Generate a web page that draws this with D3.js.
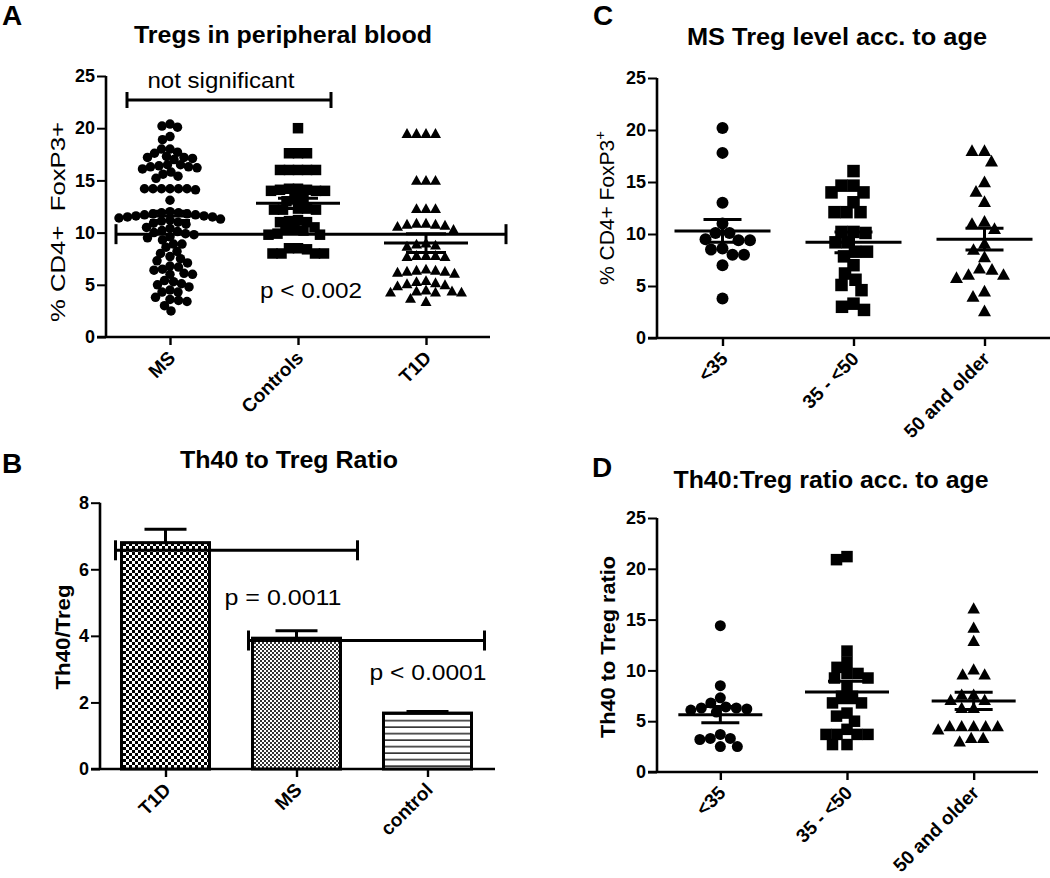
<!DOCTYPE html>
<html><head><meta charset="utf-8">
<script src="https://cdn.jsdelivr.net/npm/d3@7"></script>
<style>body{margin:0;background:#fff} text{font-family:"Liberation Sans",Arial,sans-serif;fill:#000}</style>
</head><body><svg id="c" width="1050" height="878"></svg>
<script>
// ---------------- DATA ----------------
// Panel A
const aCategories = ["MS", "Controls", "T1D"];
const aYTicks = [0, 5, 10, 15, 20, 25];
const aMS = [20.4, 20.2, 20.1, 19.2, 18.9, 18.0, 18.0, 17.7, 17.6, 17.3, 17.2, 17.2, 17.1, 17.0,
  16.5, 16.5, 16.4, 16.3, 16.3, 16.2, 16.1, 15.8, 15.6, 15.4, 15.2,
  14.2, 14.2, 14.2, 14.1, 14.2, 14.2, 14.2, 13.1,
  12.0, 11.9, 11.9, 11.8, 11.8, 11.7, 11.7, 11.6, 11.6, 11.5, 11.5, 11.4, 11.3, 11.2, 11.1, 11.0, 10.9, 10.8,
  10.5, 10.4, 10.2, 10.1, 10.0, 9.9, 9.8, 9.6, 9.5, 9.3,
  8.9, 8.9, 8.6, 8.2, 8.0, 7.7, 7.5, 7.3, 7.1, 6.8, 6.7, 6.5, 6.4, 6.1, 6.0, 6.0,
  5.4, 5.3, 5.1, 5.0, 4.8, 4.5, 4.3, 4.3, 3.8, 3.6, 3.5, 3.4, 3.0, 2.5];
const aControls = [20.0, 17.6, 17.6, 17.6, 16.0, 16.0, 16.0, 16.0, 16.0,
  14.2, 14.1, 14.0, 14.0, 14.1, 14.2, 14.0, 13.4, 13.2, 13.0,
  12.3, 12.2, 12.2, 12.2, 12.3, 11.2, 11.1, 11.0, 11.0, 10.5, 10.4, 10.3, 10.2,
  9.9, 9.8, 9.8, 8.5, 8.5, 8.4, 8.0, 8.0, 8.0, 8.0];
const aT1D = [19.5, 19.5, 19.5, 19.5, 15.0, 15.0, 15.0, 12.3, 12.3, 12.3,
  10.9, 10.9, 10.8, 10.8, 10.7, 10.6, 10.3, 9.0, 8.9, 8.8, 8.7,
  7.8, 7.8, 7.8, 7.7, 7.7, 6.5, 6.4, 6.4, 6.3, 6.3, 6.2, 6.1,
  5.4, 5.3, 5.2, 5.1, 5.0, 4.9, 4.5, 4.4, 4.4, 4.3, 4.3, 4.3, 3.7, 3.4];
const aMeans = [11.6, 12.8, 9.0];
const aSEM = [0.45, 0.5, 0.9];
const aNotSigLevel = 22.7;
const aPLevel = 9.85;

// Panel B
const bCategories = ["T1D", "MS", "control"];
const bYTicks = [0, 2, 4, 6, 8];
const bValues = [6.8, 3.93, 1.68];
const bSEM = [0.4, 0.22, 0.05];
const bBracketLevels = [6.57, 3.86];

// Panel C
const cCategories = ["<35", "35 - <50", "50 and older"];
const cYTicks = [0, 5, 10, 15, 20, 25];
const cUnder35 = [20.2, 17.8, 13.0, 11.0, 10.1, 10.1, 9.5, 9.4, 9.4, 8.6, 8.5, 8.0, 8.0, 7.0, 3.8];
const c35to50 = [16.05, 14.65, 14.65, 14.0, 14.0, 13.05, 12.1, 12.1, 12.1, 10.2, 10.2, 10.1, 9.2, 9.2,
  8.3, 8.3, 7.85, 7.0, 6.2, 5.6, 5.1, 4.6, 3.3, 3.0, 2.7];
const c50plus = [18.0, 18.0, 17.0, 15.0, 14.1, 13.1, 11.2, 11.0, 10.5, 9.1, 8.5, 7.8, 6.7, 6.6, 6.1, 6.1, 5.8, 4.5, 4.0, 2.6];
const cMeans = [10.3, 9.2, 9.5];
const cSEM = [1.1, 1.0, 1.05];

// Panel D
const dCategories = ["<35", "35 - <50", "50 and older"];
const dYTicks = [0, 5, 10, 15, 20, 25];
const dUnder35 = [14.4, 8.5, 7.3, 6.8, 6.4, 6.3, 6.3, 6.2, 6.1, 5.9, 3.7, 3.3, 3.3, 3.2, 2.5, 2.5];
const d35to50 = [21.2, 20.9, 11.9, 10.8, 10.3, 9.7, 9.7, 9.25, 9.25, 8.4, 7.45, 7.45, 6.8, 6.8,
  5.8, 5.5, 5.0, 4.2, 3.7, 3.7, 3.7, 3.7, 2.7, 2.7];
const d50plus = [16.1, 14.2, 12.9, 10.1, 9.6, 9.6, 7.6, 7.6, 7.1, 7.1, 6.3, 6.3, 4.5, 4.5, 4.5, 4.5, 4.5, 4.2, 3.35, 3.35, 3.0];
const dMeans = [5.64, 7.87, 7.0];
const dSEM = [0.8, 1.05, 0.85];

// ---------------- DRAWING ----------------
const svg = d3.select("#c");
svg.append("rect").attr("width", 1050).attr("height", 878).attr("fill", "#fff");
const defs = svg.append("defs");
function pattern(id, w, h, build) {
  const p = defs.append("pattern").attr("id", id).attr("patternUnits", "userSpaceOnUse")
    .attr("width", w).attr("height", h);
  p.append("rect").attr("width", w).attr("height", h).attr("fill", "#fff");
  build(p);
}
pattern("checkBig", 6, 6, p => {
  p.append("rect").attr("width", 3).attr("height", 3).attr("fill", "#000");
  p.append("rect").attr("x", 3).attr("y", 3).attr("width", 3).attr("height", 3).attr("fill", "#000");
});
pattern("checkSmall", 4, 4, p => {
  p.append("rect").attr("width", 2).attr("height", 2).attr("fill", "#333");
  p.append("rect").attr("x", 2).attr("y", 2).attr("width", 2).attr("height", 2).attr("fill", "#333");
});
pattern("hLines", 8, 6.5, p => {
  p.append("rect").attr("y", 5).attr("width", 8).attr("height", 1.3).attr("fill", "#000");
});

const AX = 2.6; // axis stroke width

function text(x, y, s, size, weight, anchor, len) {
  const t = svg.append("text").attr("x", x).attr("y", y).text(s)
    .attr("font-size", size).attr("font-weight", weight || "normal")
    .attr("text-anchor", anchor || "middle");
  if (len) t.attr("textLength", len).attr("lengthAdjust", "spacingAndGlyphs");
  return t;
}

function beeswarm(values, cx, y, diam) {
  const placed = [];
  const order = values.map((v, i) => ({ v, i })).sort((a, b) => b.v - a.v);
  const out = new Array(values.length);
  for (const p of order) {
    const py = y(p.v);
    let off = 0;
    for (let k = 0; k < 2000; k++) {
      const cand = (k % 2 === 0 ? 1 : -1) * Math.ceil(k / 2) * 0.5;
      let ok = true;
      for (const q of placed) {
        const dx = cand - q.off, dy = py - q.py;
        if (dx * dx + dy * dy < diam * diam) { ok = false; break; }
      }
      if (ok) { off = cand; break; }
    }
    placed.push({ off, py });
    out[p.i] = { x: cx + off, y: py, v: p.v };
  }
  return out;
}

function drawMarker(g, shape, pts, size) {
  if (shape === "circle") {
    g.selectAll(null).data(pts).join("circle").attr("cx", d => d.x).attr("cy", d => d.y)
      .attr("r", size / 2).attr("fill", "#000");
  } else if (shape === "square") {
    g.selectAll(null).data(pts).join("rect").attr("x", d => d.x - size / 2).attr("y", d => d.y - size / 2)
      .attr("width", size).attr("height", size).attr("fill", "#000");
  } else {
    const w = size / 2, h = size * 0.9;
    g.selectAll(null).data(pts).join("path")
      .attr("d", d => `M${d.x},${d.y - h * 0.55}L${d.x + w},${d.y + h * 0.45}L${d.x - w},${d.y + h * 0.45}Z`)
      .attr("fill", "#000");
  }
}

function axes(cfg) {
  const g = svg.append("g");
  const y = cfg.y, x = cfg.x;
  const ya = g.append("g").attr("transform", `translate(${cfg.axisX},0)`)
    .call(d3.axisLeft(y).tickValues(cfg.yTicks).tickSize(9).tickSizeOuter(0).tickPadding(2));
  ya.select(".domain").remove();
  ya.selectAll(".tick line").attr("stroke", "#000").attr("stroke-width", 2);
  ya.selectAll(".tick text").attr("font-size", 18).attr("font-weight", "bold")
    .attr("font-family", "Liberation Sans, Arial, sans-serif").attr("fill", "#000");
  g.append("line").attr("x1", cfg.axisX).attr("x2", cfg.axisX).attr("y1", y.range()[0]).attr("y2", y.range()[1])
    .attr("stroke", "#000").attr("stroke-width", AX);
  const xa = g.append("g").attr("transform", `translate(0,${y.range()[0]})`)
    .call(d3.axisBottom(x).tickSize(8).tickSizeOuter(0));
  xa.select(".domain").remove();
  xa.selectAll(".tick line").attr("stroke", "#000").attr("stroke-width", 2.4);
  xa.selectAll(".tick text").attr("font-size", 19).attr("font-weight", "bold")
    .attr("font-family", "Liberation Sans, Arial, sans-serif").attr("fill", "#000")
    .attr("x", 0).attr("y", 0).attr("dy", 0).attr("text-anchor", "end")
    .attr("transform", "translate(6,22) rotate(-45)");
  g.append("line").attr("x1", cfg.axisX - 9).attr("x2", cfg.lineEnd).attr("y1", y.range()[0]).attr("y2", y.range()[0])
    .attr("stroke", "#000").attr("stroke-width", AX);
}

function meanSem(cx, y, mean, sem, meanW, semW) {
  const g = svg.append("g").attr("stroke", "#000").attr("stroke-width", 3);
  g.append("line").attr("x1", cx - meanW / 2).attr("x2", cx + meanW / 2).attr("y1", y(mean)).attr("y2", y(mean));
  g.append("line").attr("x1", cx).attr("x2", cx).attr("y1", y(mean - sem)).attr("y2", y(mean + sem));
  [mean - sem, mean + sem].forEach(v =>
    g.append("line").attr("x1", cx - semW / 2).attr("x2", cx + semW / 2).attr("y1", y(v)).attr("y2", y(v)));
}

function bracket(x1, x2, yy, cap) {
  const g = svg.append("g").attr("stroke", "#000").attr("stroke-width", 3);
  g.append("line").attr("x1", x1).attr("x2", x2).attr("y1", yy).attr("y2", yy);
  g.append("line").attr("x1", x1).attr("x2", x1).attr("y1", yy - cap).attr("y2", yy + cap);
  g.append("line").attr("x1", x2).attr("x2", x2).attr("y1", yy - cap).attr("y2", yy + cap);
}

function scatterPanel(cfg) {
  const y = d3.scaleLinear().domain([0, 25]).range([cfg.y0, cfg.yTop]);
  const x = d3.scalePoint().domain(cfg.categories).range([cfg.axisX, cfg.rangeEnd]).padding(0.5);
  cfg.x = x; cfg.y = y;
  axes(cfg);
  const shapes = ["circle", "square", "triangle"];
  const g = svg.append("g");
  cfg.groups.forEach((vals, i) => {
    const cx = x(cfg.categories[i]);
    const pts = beeswarm(vals, cx, y, cfg.sizes[i] * cfg.spread);
    drawMarker(g, shapes[i], pts, cfg.sizes[i]);
  });
  cfg.categories.forEach((c, i) => meanSem(x(c), y, cfg.means[i], cfg.sems[i], cfg.meanW, cfg.semW));
  return { x, y };
}

// ===== Panel A =====
text(2, 25, "A", 28, "bold", "start");
text(283, 43, "Tregs in peripheral blood", 23, "bold", "middle", 298);
const A = scatterPanel({
  y0: 337, yTop: 76, axisX: 106, rangeEnd: 490, lineEnd: 490,
  categories: aCategories, yTicks: aYTicks, groups: [aMS, aControls, aT1D],
  sizes: [9.5, 10.5, 11], spread: 0.85, means: aMeans, sems: aSEM, meanW: 84, semW: 40
});
bracket(A.x("MS") - 43, A.x("Controls") + 33, A.y(aNotSigLevel), 8);
text(221, 88, "not significant", 22, "normal", "middle", 147);
bracket(A.x("MS") - 54, A.x("T1D") + 80, A.y(aPLevel), 10);
text(311, 298, "p < 0.002", 22, "normal", "middle", 102);
text(0, 0, "% CD4+  FoxP3+", 21, "normal", "middle", 200).attr("transform", "translate(65,222) rotate(-90)")
  .attr("xml:space", "preserve");

// ===== Panel B =====
text(2, 473, "B", 28, "bold", "start");
text(289, 468, "Th40 to Treg Ratio", 23, "bold", "middle", 218);
{
  const y = d3.scaleLinear().domain([0, 8]).range([769, 502.7]);
  const x = d3.scalePoint().domain(bCategories).range([100, 493]).padding(0.5);
  axes({ x, y, axisX: 100, lineEnd: 495, yTicks: bYTicks });
  const bw = 88;
  const fills = ["url(#checkBig)", "url(#checkSmall)", "url(#hLines)"];
  const g = svg.append("g");
  g.selectAll(null).data(bValues).join("rect")
    .attr("x", (d, i) => x(bCategories[i]) - bw / 2).attr("y", d => y(d))
    .attr("width", bw).attr("height", d => y(0) - y(d))
    .attr("fill", (d, i) => fills[i]).attr("stroke", "#000").attr("stroke-width", 3);
  bValues.forEach((v, i) => {
    const cx = x(bCategories[i]);
    const eg = svg.append("g").attr("stroke", "#000").attr("stroke-width", 3);
    eg.append("line").attr("x1", cx).attr("x2", cx).attr("y1", y(v)).attr("y2", y(v + bSEM[i]));
    eg.append("line").attr("x1", cx - 21).attr("x2", cx + 21).attr("y1", y(v + bSEM[i])).attr("y2", y(v + bSEM[i]));
  });
  bracket(x("T1D") - 50, x("MS") + 61, y(bBracketLevels[0]), 10);
  bracket(x("MS") - 48, x("control") + 57, y(bBracketLevels[1]), 10);
  text(283, 605, "p = 0.0011", 22, "normal", "middle", 117);
  text(428, 680, "p < 0.0001", 22, "normal", "middle", 117);
  text(0, 0, "Th40/Treg", 21, "bold", "middle", 105).attr("transform", "translate(70,637) rotate(-90)");
}

// ===== Panel C =====
text(593, 25, "C", 28, "bold", "start");
text(837, 45, "MS Treg level acc. to age", 23, "bold", "middle", 300);
scatterPanel({
  y0: 338, yTop: 78, axisX: 657, rangeEnd: 1050, lineEnd: 1050,
  categories: cCategories, yTicks: cYTicks, groups: [cUnder35, c35to50, c50plus],
  sizes: [12, 12.5, 13], spread: 0.95, means: cMeans, sems: cSEM, meanW: 96, semW: 38
});
{
  const t = text(0, 0, "", 21, "normal").attr("transform", "translate(614,208) rotate(-90)");
  t.append("tspan").text("% CD4+ FoxP3");
  t.append("tspan").text("+").attr("font-size", 15).attr("dy", -9);
}

// ===== Panel D =====
text(592, 477, "D", 28, "bold", "start");
text(831, 488, "Th40:Treg ratio acc. to age", 23, "bold", "middle", 315);
scatterPanel({
  y0: 772, yTop: 518, axisX: 657, rangeEnd: 1037, lineEnd: 1038,
  categories: dCategories, yTicks: dYTicks, groups: [dUnder35, d35to50, d50plus],
  sizes: [11, 11.5, 12.5], spread: 0.95, means: dMeans, sems: dSEM, meanW: 84, semW: 38
});
text(0, 0, "Th40 to Treg ratio", 21, "bold", "middle", 182).attr("transform", "translate(615,647) rotate(-90)");
</script></body></html>
